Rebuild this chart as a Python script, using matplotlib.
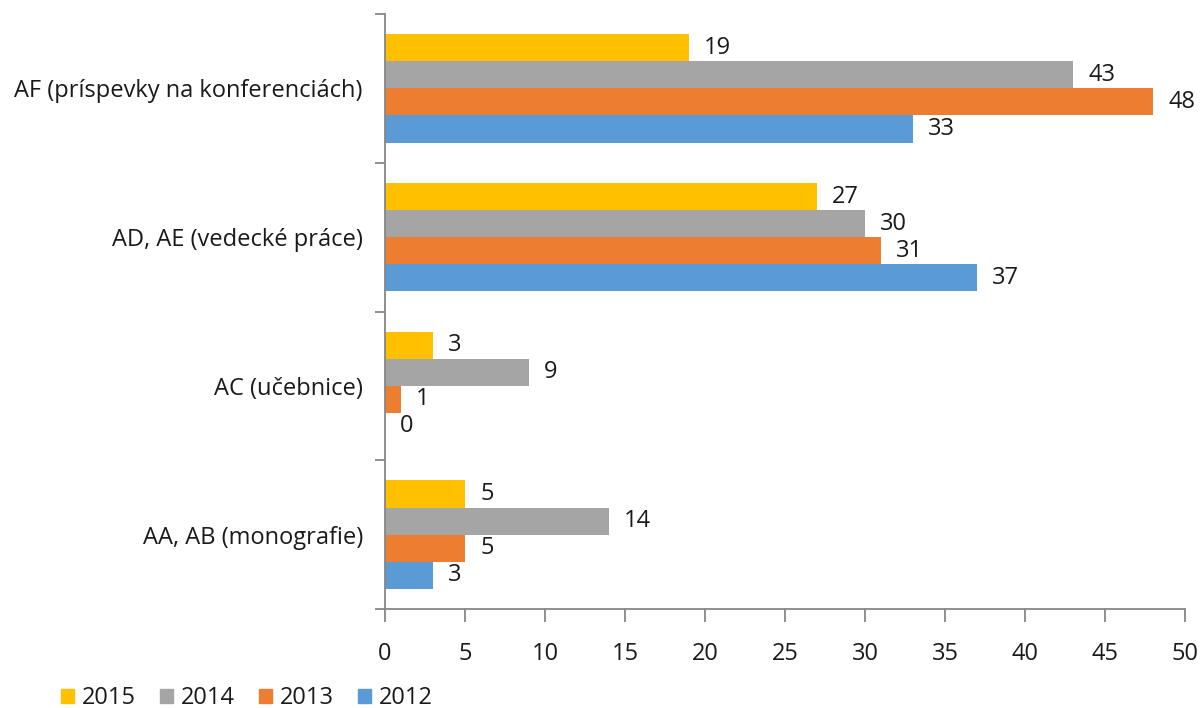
import numpy as np
import matplotlib.pyplot as plt
from matplotlib.patches import Patch
from matplotlib.ticker import FixedLocator

plt.rcParams['font.family'] = ['Open Sans', 'DejaVu Sans']

# Categories (bottom to top)
categories = ['AA, AB (monografie)', 'AC (učebnice)',
              'AD, AE (vedecké práce)', 'AF (príspevky na konferenciách)']
years = ['2015', '2014', '2013', '2012']
v2015 = [5, 3, 27, 19]
v2014 = [14, 9, 30, 43]
v2013 = [5, 1, 31, 48]
v2012 = [3, 0, 37, 33]
colors = ['#FFC000', '#A5A5A5', '#ED7D31', '#5B9BD5']

series = [v2015, v2014, v2013, v2012]
offsets = [1.5, 0.5, -0.5, -1.5]
h = 0.182
y = np.arange(len(categories))
fs = 17

fig = plt.figure(figsize=(12.01, 7.08), dpi=100)
ax = fig.add_axes([385/1201, (708-609)/708, 800/1201, (609-14)/708])

for vals, off, col in zip(series, offsets, colors):
    bars = ax.barh(y + off*h, vals, height=h, color=col)
    ax.bar_label(bars, padding=11, fontsize=fs, color='#1a1a1a')

ax.set_xlim(0, 50)
ax.set_ylim(-0.5, len(categories) - 0.5)
ax.set_xticks(np.arange(0, 51, 5))
ax.set_yticks(y)
ax.set_yticklabels(categories)
ax.yaxis.set_minor_locator(FixedLocator(np.arange(-0.5, len(categories), 1)))

for s in ['top', 'right']:
    ax.spines[s].set_visible(False)
for s in ['left', 'bottom']:
    ax.spines[s].set_color('#868686')
    ax.spines[s].set_linewidth(1.3)

ax.tick_params(axis='y', which='major', length=0, pad=16, labelsize=fs, labelcolor='#1a1a1a')
ax.tick_params(axis='y', which='minor', length=7, width=1.3, color='#868686')
ax.tick_params(axis='x', length=9, width=1.3, color='#868686', pad=15,
               labelsize=fs, labelcolor='#1a1a1a')

handles = [Patch(color=c, label=l) for c, l in zip(colors, years)]
fig.legend(handles=handles, loc='center left', bbox_to_anchor=(61/1201, 1 - 698/708),
           ncol=4, frameon=False, fontsize=fs, handlelength=0.55, handleheight=0.55,
           handletextpad=0.35, columnspacing=1.0, borderpad=0, borderaxespad=0,
           labelcolor='#1a1a1a')

fig.savefig('out.png', dpi=100)
